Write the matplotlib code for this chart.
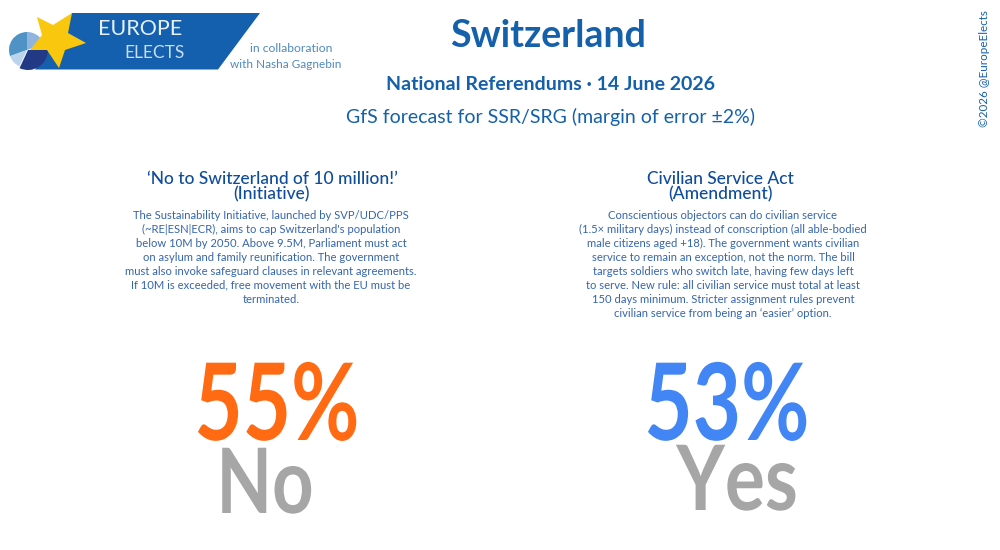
import matplotlib
matplotlib.use("Agg")
import matplotlib.pyplot as plt
from matplotlib.patches import Polygon, Wedge
from matplotlib.patheffects import AbstractPathEffect
from matplotlib.transforms import Affine2D

# Swiss referendum forecast card

titles = ["‘No to Switzerland of 10 million!’\n(Initiative)", "Civilian Service Act\n(Amendment)"]
descriptions = [
    "The Sustainability Initiative, launched by SVP/UDC/PPS\n"
    "(~RE|ESN|ECR), aims to cap Switzerland's population\n"
    "below 10M by 2050. Above 9.5M, Parliament must act\n"
    "on asylum and family reunification. The government\n"
    "must also invoke safeguard clauses in relevant agreements.\n"
    "If 10M is exceeded, free movement with the EU must be\n"
    "terminated.",
    "Conscientious objectors can do civilian service\n"
    "(1.5× military days) instead of conscription (all able-bodied\n"
    "male citizens aged +18). The government wants civilian\n"
    "service to remain an exception, not the norm. The bill\n"
    "targets soldiers who switch late, having few days left\n"
    "to serve. New rule: all civilian service must total at least\n"
    "150 days minimum. Stricter assignment rules prevent\n"
    "civilian service from being an ‘easier’ option.",
]
percents = [55, 53]
answers = ["No", "Yes"]
answer_colors = ["#ff6a13", "#4285f4"]

BLUE = "#1460aa"
DARK = "#0f4c9c"
FONT = "Lato"


# the original font is much narrower than Lato, so squeeze the big text sideways
class Squeeze(AbstractPathEffect):
    def __init__(self, factor):
        super().__init__()
        self.factor = factor

    def draw_path(self, renderer, gc, tpath, affine, rgbFace=None):
        box = tpath.transformed(affine).get_extents()
        cx = (box.x0 + box.x1) / 2
        squeeze = Affine2D().translate(-cx, 0).scale(self.factor, 1).translate(cx, 0)
        renderer.draw_path(gc, tpath, affine + squeeze, rgbFace)


fig = plt.figure(figsize=(10, 5.5), dpi=100)
ax = fig.add_axes([0, 0, 1, 1])
ax.set_xlim(0, 1000)
ax.set_ylim(550, 0)
ax.axis("off")

# logo (y axis points down, so wedge angles run clockwise)
ax.add_patch(Polygon([[72, 13], [260, 13], [218, 69.5], [35, 69.5]], color="#1560ae", lw=0, zorder=1))
ax.add_patch(Wedge((27, 50), 18, -200, -90, color="#4f93c6", lw=0, zorder=2))
ax.add_patch(Wedge((27, 50), 18, -90, -20, color="#8fb4df", lw=0, zorder=2))
ax.add_patch(Wedge((27, 50), 18, 115, 160, color="#bcd3ee", lw=0, zorder=2))
ax.add_patch(Wedge((28, 50), 20, 0, 115, color="#223a86", lw=0, zorder=2))
ax.add_patch(Polygon([[37, 17], [53, 25], [72, 13], [68, 33], [86, 43], [65, 50], [59, 68],
                      [47, 50], [30, 50], [42, 35]], color="#f9c80e", lw=0, zorder=3))
ax.text(140, 29, "EUROPE", color="#e6f0fb", fontsize=15.5, family=FONT,
        ha="center", va="center", zorder=4)
ax.text(154, 53, "ELECTS", color="#c9ddf3", fontsize=12.5, family=FONT,
        ha="center", va="center", zorder=4)
ax.text(291, 49, "in collaboration", color="#4f8abf", fontsize=8.7, family=FONT,
        ha="center", va="center")
ax.text(286, 65, "with Nasha Gagnebin", color="#4f8abf", fontsize=8.5, family=FONT,
        ha="center", va="center")

# headings
ax.text(548, 36, "Switzerland", color=BLUE, fontsize=27, family=FONT, weight="bold",
        ha="center", va="center")
ax.text(550, 85, "National Referendums · 14 June 2026", color=BLUE, fontsize=14, family=FONT,
        weight="bold", ha="center", va="center")
ax.text(550, 117, "GfS forecast for SSR/SRG (margin of error ±2%)", color=BLUE, fontsize=14,
        family=FONT, ha="center", va="center")
ax.text(984, 69, "©2026 @EuropeElects", color=BLUE, fontsize=8.4, family=FONT, rotation=90,
        ha="center", va="center")

# one column per referendum
title_x = [272, 720.5]
body_x = [271, 723]
big_x = [277, 727]
answer_x = [264.5, 737.5]
answer_squeeze = [0.8, 0.83]
answer_base = [513, 510]
for i in range(2):
    ax.text(title_x[i], 187, titles[i], color=DARK, fontsize=12.5, family=FONT, weight="medium",
            ha="center", va="center", linespacing=0.95)
    ax.text(body_x[i], 210, descriptions[i], color="#3565ad", fontsize=8.1, family=FONT,
            ha="center", va="top", linespacing=1.33)
    ax.text(big_x[i], 440, f"{percents[i]}%", color=answer_colors[i], fontsize=77, family=FONT,
            weight="bold", ha="center", va="baseline", path_effects=[Squeeze(0.78)])
    ax.text(answer_x[i], answer_base[i], answers[i], color="#a6a6a6", fontsize=65, family=FONT,
            weight="bold", ha="center", va="baseline", path_effects=[Squeeze(answer_squeeze[i])])

fig.savefig("out.png", dpi=100)
